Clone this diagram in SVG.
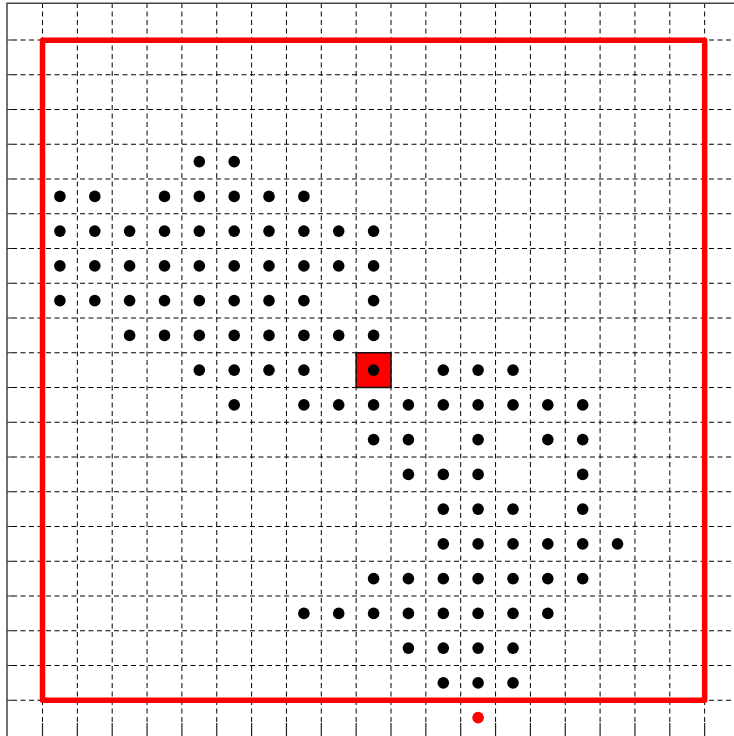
<svg xmlns="http://www.w3.org/2000/svg" width="734" height="736" viewBox="0 0 734 736">
<style>
.grid{fill:none;stroke:#000;stroke-width:1;stroke-dasharray:5 3.5}
.tick{fill:none;stroke:#222;stroke-width:1.2}
.axis{fill:none;stroke:#444;stroke-width:1.5}
.dot{fill:#000}
.goal{fill:#ff0000}
.bound{fill:none;stroke:#ff0000;stroke-width:5.5;stroke-linejoin:round}
.start{fill:#ff0000;stroke:#111;stroke-width:1.5}
</style>
<rect width="734" height="736" fill="#fff"/>
<g id="grid">
<path class="grid" d="M42.5 3V723M77.35 3V723M112.2 3V723M147.05 3V723M181.9 3V723M216.75 3V723M251.6 3V723M286.45 3V723M321.3 3V723M356.15 3V723M391 3V723M425.85 3V723M460.7 3V723M495.55 3V723M530.4 3V723M565.25 3V723M600.1 3V723M634.95 3V723M669.8 3V723M704.65 3V723"/>
<path class="grid" d="M12 40H734M12 74.75H734M12 109.5H734M12 144.25H734M12 179H734M12 213.75H734M12 248.5H734M12 283.25H734M12 318H734M12 352.75H734M12 387.5H734M12 422.25H734M12 457H734M12 491.75H734M12 526.5H734M12 561.25H734M12 596H734M12 630.75H734M12 665.5H734M12 700.25H734"/>
<path class="tick" d="M7 40H12.5M7 74.75H12.5M7 109.5H12.5M7 144.25H12.5M7 179H12.5M7 213.75H12.5M7 248.5H12.5M7 283.25H12.5M7 318H12.5M7 352.75H12.5M7 387.5H12.5M7 422.25H12.5M7 457H12.5M7 491.75H12.5M7 526.5H12.5M7 561.25H12.5M7 596H12.5M7 630.75H12.5M7 665.5H12.5M7 700.25H12.5"/>
<path class="tick" d="M42.5 723V736M77.35 723V736M112.2 723V736M147.05 723V736M181.9 723V736M216.75 723V736M251.6 723V736M286.45 723V736M321.3 723V736M356.15 723V736M391 723V736M425.85 723V736M460.7 723V736M495.55 723V736M530.4 723V736M565.25 723V736M600.1 723V736M634.95 723V736M669.8 723V736M704.65 723V736"/>
<path class="axis" d="M7 736V3.3H734"/>
</g>
<g id="boundary">
<rect class="bound" x="42.5" y="40.3" width="662.15" height="660"/>
</g>
<g id="start">
<rect class="start" x="356.15" y="352.75" width="34.85" height="34.75"/>
</g>
<g id="goal">
<circle class="goal" cx="478.1" cy="717.6" r="5.8"/>
</g>
<g id="points">
<g id="row3"><circle class="dot" cx="199.3" cy="161.6" r="5.8"/><circle class="dot" cx="234.2" cy="161.6" r="5.8"/></g>
<g id="row4"><circle class="dot" cx="59.9" cy="196.4" r="5.8"/><circle class="dot" cx="94.8" cy="196.4" r="5.8"/><circle class="dot" cx="164.5" cy="196.4" r="5.8"/><circle class="dot" cx="199.3" cy="196.4" r="5.8"/><circle class="dot" cx="234.2" cy="196.4" r="5.8"/><circle class="dot" cx="269" cy="196.4" r="5.8"/><circle class="dot" cx="303.9" cy="196.4" r="5.8"/></g>
<g id="row5"><circle class="dot" cx="59.9" cy="231.1" r="5.8"/><circle class="dot" cx="94.8" cy="231.1" r="5.8"/><circle class="dot" cx="129.6" cy="231.1" r="5.8"/><circle class="dot" cx="164.5" cy="231.1" r="5.8"/><circle class="dot" cx="199.3" cy="231.1" r="5.8"/><circle class="dot" cx="234.2" cy="231.1" r="5.8"/><circle class="dot" cx="269" cy="231.1" r="5.8"/><circle class="dot" cx="303.9" cy="231.1" r="5.8"/><circle class="dot" cx="338.7" cy="231.1" r="5.8"/><circle class="dot" cx="373.6" cy="231.1" r="5.8"/></g>
<g id="row6"><circle class="dot" cx="59.9" cy="265.9" r="5.8"/><circle class="dot" cx="94.8" cy="265.9" r="5.8"/><circle class="dot" cx="129.6" cy="265.9" r="5.8"/><circle class="dot" cx="164.5" cy="265.9" r="5.8"/><circle class="dot" cx="199.3" cy="265.9" r="5.8"/><circle class="dot" cx="234.2" cy="265.9" r="5.8"/><circle class="dot" cx="269" cy="265.9" r="5.8"/><circle class="dot" cx="303.9" cy="265.9" r="5.8"/><circle class="dot" cx="338.7" cy="265.9" r="5.8"/><circle class="dot" cx="373.6" cy="265.9" r="5.8"/></g>
<g id="row7"><circle class="dot" cx="59.9" cy="300.6" r="5.8"/><circle class="dot" cx="94.8" cy="300.6" r="5.8"/><circle class="dot" cx="129.6" cy="300.6" r="5.8"/><circle class="dot" cx="164.5" cy="300.6" r="5.8"/><circle class="dot" cx="199.3" cy="300.6" r="5.8"/><circle class="dot" cx="234.2" cy="300.6" r="5.8"/><circle class="dot" cx="269" cy="300.6" r="5.8"/><circle class="dot" cx="303.9" cy="300.6" r="5.8"/><circle class="dot" cx="373.6" cy="300.6" r="5.8"/></g>
<g id="row8"><circle class="dot" cx="129.6" cy="335.4" r="5.8"/><circle class="dot" cx="164.5" cy="335.4" r="5.8"/><circle class="dot" cx="199.3" cy="335.4" r="5.8"/><circle class="dot" cx="234.2" cy="335.4" r="5.8"/><circle class="dot" cx="269" cy="335.4" r="5.8"/><circle class="dot" cx="303.9" cy="335.4" r="5.8"/><circle class="dot" cx="338.7" cy="335.4" r="5.8"/><circle class="dot" cx="373.6" cy="335.4" r="5.8"/></g>
<g id="row9"><circle class="dot" cx="199.3" cy="370.1" r="5.8"/><circle class="dot" cx="234.2" cy="370.1" r="5.8"/><circle class="dot" cx="269" cy="370.1" r="5.8"/><circle class="dot" cx="303.9" cy="370.1" r="5.8"/><circle class="dot" cx="373.6" cy="370.1" r="5.8"/><circle class="dot" cx="443.3" cy="370.1" r="5.8"/><circle class="dot" cx="478.1" cy="370.1" r="5.8"/><circle class="dot" cx="513" cy="370.1" r="5.8"/></g>
<g id="row10"><circle class="dot" cx="234.2" cy="404.9" r="5.8"/><circle class="dot" cx="303.9" cy="404.9" r="5.8"/><circle class="dot" cx="338.7" cy="404.9" r="5.8"/><circle class="dot" cx="373.6" cy="404.9" r="5.8"/><circle class="dot" cx="408.4" cy="404.9" r="5.8"/><circle class="dot" cx="443.3" cy="404.9" r="5.8"/><circle class="dot" cx="478.1" cy="404.9" r="5.8"/><circle class="dot" cx="513" cy="404.9" r="5.8"/><circle class="dot" cx="547.8" cy="404.9" r="5.8"/><circle class="dot" cx="582.7" cy="404.9" r="5.8"/></g>
<g id="row11"><circle class="dot" cx="373.6" cy="439.6" r="5.8"/><circle class="dot" cx="408.4" cy="439.6" r="5.8"/><circle class="dot" cx="478.1" cy="439.6" r="5.8"/><circle class="dot" cx="547.8" cy="439.6" r="5.8"/><circle class="dot" cx="582.7" cy="439.6" r="5.8"/></g>
<g id="row12"><circle class="dot" cx="408.4" cy="474.4" r="5.8"/><circle class="dot" cx="443.3" cy="474.4" r="5.8"/><circle class="dot" cx="478.1" cy="474.4" r="5.8"/><circle class="dot" cx="582.7" cy="474.4" r="5.8"/></g>
<g id="row13"><circle class="dot" cx="443.3" cy="509.1" r="5.8"/><circle class="dot" cx="478.1" cy="509.1" r="5.8"/><circle class="dot" cx="513" cy="509.1" r="5.8"/><circle class="dot" cx="582.7" cy="509.1" r="5.8"/></g>
<g id="row14"><circle class="dot" cx="443.3" cy="543.9" r="5.8"/><circle class="dot" cx="478.1" cy="543.9" r="5.8"/><circle class="dot" cx="513" cy="543.9" r="5.8"/><circle class="dot" cx="547.8" cy="543.9" r="5.8"/><circle class="dot" cx="582.7" cy="543.9" r="5.8"/><circle class="dot" cx="617.5" cy="543.9" r="5.8"/></g>
<g id="row15"><circle class="dot" cx="373.6" cy="578.6" r="5.8"/><circle class="dot" cx="408.4" cy="578.6" r="5.8"/><circle class="dot" cx="443.3" cy="578.6" r="5.8"/><circle class="dot" cx="478.1" cy="578.6" r="5.8"/><circle class="dot" cx="513" cy="578.6" r="5.8"/><circle class="dot" cx="547.8" cy="578.6" r="5.8"/><circle class="dot" cx="582.7" cy="578.6" r="5.8"/></g>
<g id="row16"><circle class="dot" cx="303.9" cy="613.4" r="5.8"/><circle class="dot" cx="338.7" cy="613.4" r="5.8"/><circle class="dot" cx="373.6" cy="613.4" r="5.8"/><circle class="dot" cx="408.4" cy="613.4" r="5.8"/><circle class="dot" cx="443.3" cy="613.4" r="5.8"/><circle class="dot" cx="478.1" cy="613.4" r="5.8"/><circle class="dot" cx="513" cy="613.4" r="5.8"/><circle class="dot" cx="547.8" cy="613.4" r="5.8"/></g>
<g id="row17"><circle class="dot" cx="408.4" cy="648.1" r="5.8"/><circle class="dot" cx="443.3" cy="648.1" r="5.8"/><circle class="dot" cx="478.1" cy="648.1" r="5.8"/><circle class="dot" cx="513" cy="648.1" r="5.8"/></g>
<g id="row18"><circle class="dot" cx="443.3" cy="682.9" r="5.8"/><circle class="dot" cx="478.1" cy="682.9" r="5.8"/><circle class="dot" cx="513" cy="682.9" r="5.8"/></g>
</g>
</svg>
